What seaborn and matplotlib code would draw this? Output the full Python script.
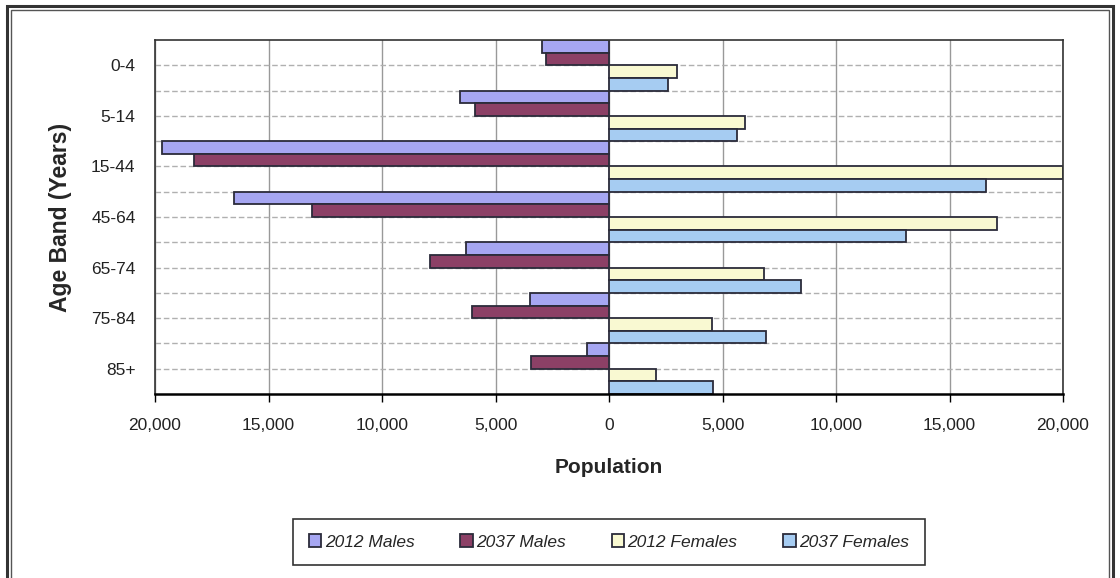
import numpy as np
import pandas as pd
import matplotlib
matplotlib.use("Agg")
import matplotlib.pyplot as plt
import matplotlib.ticker as mticker
from matplotlib.patches import Rectangle
import seaborn as sns

age_bands = ["0-4", "5-14", "15-44", "45-64", "65-74", "75-84", "85+"]
series_names = ["2012 Males", "2037 Males", "2012 Females", "2037 Females"]

males_2012 = [2970, 6570, 19700, 16520, 6300, 3480, 980]
males_2037 = [2780, 5900, 18280, 13080, 7880, 6030, 3440]
females_2012 = [2980, 6000, 20000, 17080, 6820, 4540, 2050]
females_2037 = [2590, 5650, 16590, 13080, 8450, 6920, 4590]

colors = ["#9999FF", "#993366", "#FFFFCC", "#99CCFF"]

# males go to the left of zero
rows = []
for name, vals, sign in zip(series_names,
                            [males_2012, males_2037, females_2012, females_2037],
                            [-1, -1, 1, 1]):
    for band, v in zip(age_bands, vals):
        rows.append({"age": band, "series": name, "value": sign * v})
df = pd.DataFrame(rows)

sns.set_style("white")
plt.rcParams["font.family"] = ["Liberation Sans", "DejaVu Sans"]

fig = plt.figure(figsize=(11.2, 5.78), dpi=100)
ax = fig.add_axes([155 / 1120, 1 - 394 / 578, (1063 - 155) / 1120, (394 - 40) / 578])

sns.barplot(data=df, y="age", x="value", hue="series", order=age_bands,
            hue_order=series_names, palette=colors, orient="h", width=1.0,
            dodge=True, edgecolor="#2b2b3a", linewidth=1.3, ax=ax,
            errorbar=None, legend=True)

ax.set_xlim(-20000, 20000)
ax.set_ylim(6.5, -0.5)
ax.set_axisbelow(True)

ax.xaxis.set_major_locator(mticker.MultipleLocator(5000))
ax.xaxis.set_major_formatter(mticker.FuncFormatter(lambda v, p: f"{abs(v):,.0f}"))
ax.set_yticks(range(len(age_bands)))
ax.set_yticklabels(age_bands)
ax.set_yticks(np.arange(0.5, 6.0, 1.0), minor=True)

ax.grid(True, axis="x", color="#999999", linewidth=1.0, linestyle="-")
ax.grid(True, axis="y", which="both", color="#b0b0b0", linewidth=1.0,
        linestyle=(0, (4, 2)))

ax.tick_params(axis="x", length=6, width=1, color="black", direction="out",
               labelsize=12.5, pad=11, bottom=True)
ax.tick_params(axis="y", length=0, labelsize=12.5, pad=14, which="both")
for lbl in ax.get_xticklabels() + ax.get_yticklabels():
    lbl.set_color("#222222")

for side in ["left", "right", "top"]:
    ax.spines[side].set_color("#333333")
    ax.spines[side].set_linewidth(1.2)
ax.spines["bottom"].set_color("black")
ax.spines["bottom"].set_linewidth(1.8)

ax.set_xlabel("Population", fontsize=15, fontweight="bold", labelpad=18)
ax.set_ylabel("Age Band (Years)", fontsize=16.5, fontweight="bold", labelpad=14)

handles, labels = ax.get_legend_handles_labels()
ax.get_legend().remove()
leg = fig.legend(handles, labels, loc="center", ncol=4,
                 bbox_to_anchor=(609 / 1120, 1 - 542 / 578),
                 frameon=True, fancybox=False, edgecolor="black",
                 prop={"style": "italic", "size": 12.5},
                 handlelength=0.7, handleheight=0.7, handletextpad=0.2,
                 columnspacing=2.65, borderpad=0.9, borderaxespad=0)
leg.get_frame().set_linewidth(1.2)

# double border around the chart
fig.patches.append(Rectangle((7 / 1120, -0.05), (1113 - 7) / 1120, 1.05 - 6 / 578,
                             transform=fig.transFigure, fill=False,
                             edgecolor="#333333", linewidth=2.2))
fig.patches.append(Rectangle((11 / 1120, -0.05), (1109 - 11) / 1120, 1.05 - 10 / 578,
                             transform=fig.transFigure, fill=False,
                             edgecolor="#555555", linewidth=1.0))

fig.savefig("out.png", dpi=100, facecolor="white")
